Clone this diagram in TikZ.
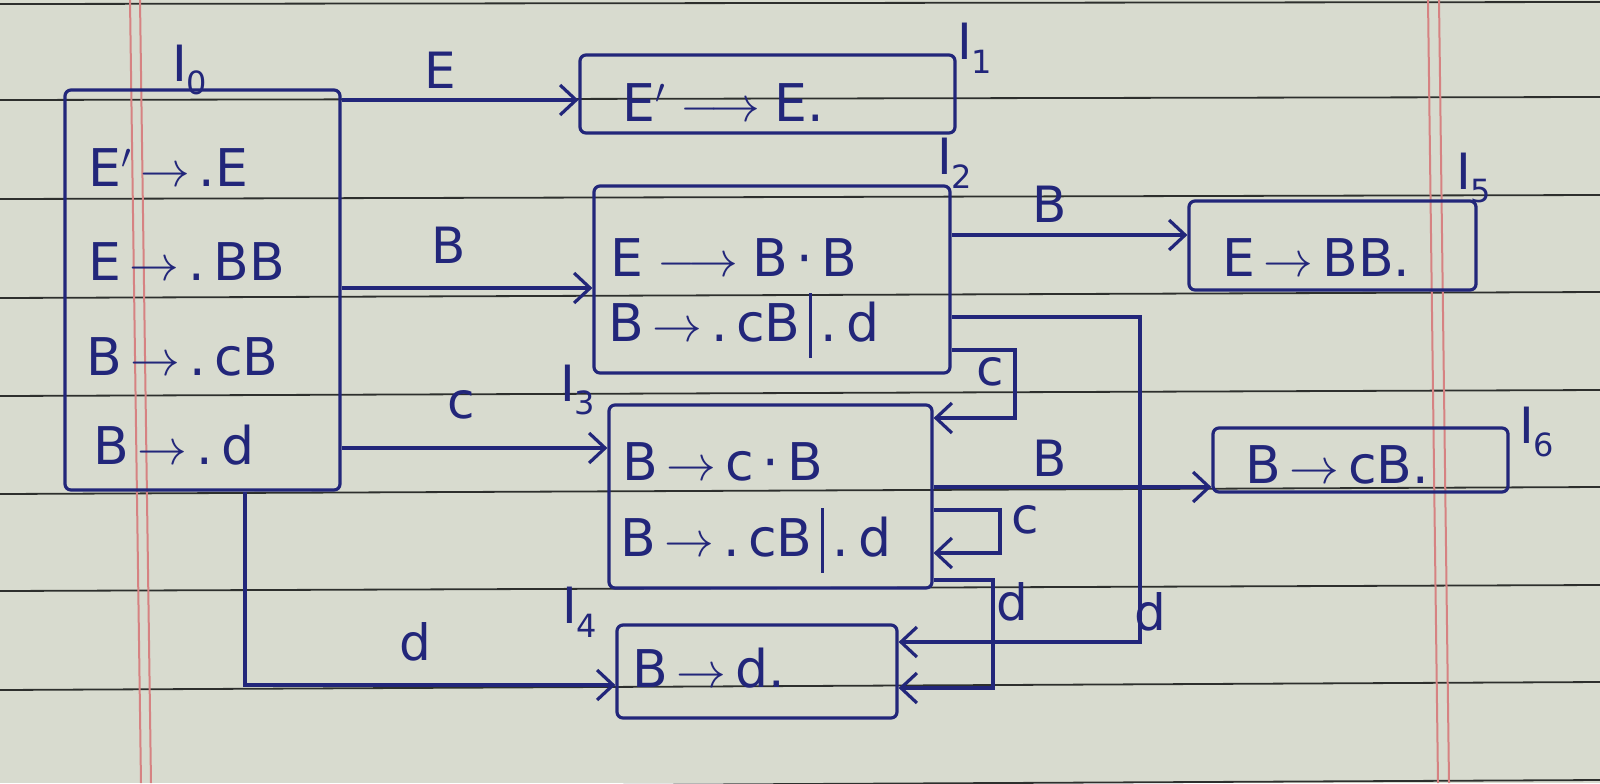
\documentclass[tikz,border=0pt]{standalone}
\usepackage{fontspec}
\setmainfont{DejaVu Sans}
\usetikzlibrary{arrows.meta,fit,calc}
\definecolor{paper}{RGB}{216,219,207}
\definecolor{ink}{RGB}{34,38,122}
\definecolor{rulecol}{RGB}{45,47,45}
\definecolor{margincol}{RGB}{214,130,130}
\newcommand\St[1]{I\kern-0.5pt\raisebox{-0.5ex}{\fontsize{16}{16}\selectfont #1}}
\newcommand\ra{\,$\rightarrow$\,}
\newcommand\lra{\;$\longrightarrow$\;}
\newcommand\vbarsep{\,\rule[-0.3em]{1.5pt}{1.25em}\,}
\begin{document}
\begin{tikzpicture}[x=0.5pt,y=-0.5pt,
  box/.style={draw=ink,line width=1.6pt,rounded corners=3pt,inner sep=0pt},
  item/.style={text=ink,font=\fontsize{26}{30}\selectfont,inner sep=0pt,anchor=west},
  lbl/.style={text=ink,font=\fontsize{25}{28}\selectfont,inner sep=0pt},
  conn/.style={draw=ink,line width=1.6pt,-{Straight Barb[length=8pt,width=15pt,line width=1.6pt]}},
  ruling/.style={draw=rulecol,line width=0.9pt},
  marginline/.style={draw=margincol,line width=1pt}]
\useasboundingbox (0,0) rectangle (1600,783);
\fill[paper] (0,0) rectangle (1600,783);
\begin{scope}
\clip (0,0) rectangle (1600,783);
\foreach \ya/\yb in {4/2,100/97,199/195,298/292,396/390,494/487,591/585,690/682,788/780}
  \draw[ruling] (0,\ya) -- (1600,\yb);
\draw[marginline] (130,0) -- (141,783);
\draw[marginline] (140,0) -- (151,783);
\draw[marginline] (1428,0) -- (1438,783);
\draw[marginline] (1439,0) -- (1449,783);
\end{scope}

% state boxes
\node[box,fit={(65,90) (340,490)}] (I0) {};
\node[box,fit={(580,55) (955,133)}] (I1) {};
\node[box,fit={(594,186) (950,373)}] (I2) {};
\node[box,fit={(609,405) (932,588)}] (I3) {};
\node[box,fit={(617,625) (897,718)}] (I4) {};
\node[box,fit={(1189,201) (1476,290)}] (I5) {};
\node[box,fit={(1213,428) (1508,492)}] (I6) {};

% state names
\node[lbl] (n0) at (190,70) {\St{0}};
\node[lbl] (n1) at (975,48) {\St{1}};
\node[lbl] (n2) at (955,163) {\St{2}};
\node[lbl] (n3) at (578,390) {\St{3}};
\node[lbl] (n4) at (580,612) {\St{4}};
\node[lbl] (n5) at (1474,178) {\St{5}};
\node[lbl] (n6) at (1537,432) {\St{6}};

% items
\node[item] (i01) at (88,168) {E$'$\ra.E};
\node[item] (i02) at (88,262) {E\ra.\,BB};
\node[item] (i03) at (86,357) {B\ra.\,cB};
\node[item] (i04) at (93,445) {B\ra.\,d};
\node[item] (i11) at (622,103) {E$'$\lra E.};
\node[item] (i21) at (610,258) {E\lra B\,·\,B};
\node[item] (i22) at (608,325) {B\ra.\,cB\vbarsep.\,d};
\node[item] (i31) at (622,462) {B\ra c\,·\,B};
\node[item] (i32) at (620,540) {B\ra.\,cB\vbarsep.\,d};
\node[item] (i41) at (632,668) {B\ra d.};
\node[item] (i51) at (1222,258) {E\ra BB.};
\node[item] (i61) at (1245,465) {B\ra cB.};

% connectors
\coordinate (d04) at (245,685);
\coordinate (c23) at (1015,418);
\coordinate (d24) at (1140,642);
\coordinate (c33) at (1000,553);
\coordinate (d34) at (993,688);
\draw[conn] (I0.east |- 0,100) -- (I1.west |- 0,100);
\draw[conn] (I0.east |- 0,288) -- (I2.west |- 0,288);
\draw[conn] (I0.east |- 0,448) -- (I3.west |- 0,448);
\draw[conn] (I0.south -| d04) |- (I4.west |- d04);
\draw[conn] (I2.east |- 0,235) -- (I5.west |- 0,235);
\draw[conn] (I2.east |- 0,350) -| (c23) -- (I3.east |- c23);
\draw[conn] (I2.east |- 0,317) -| (d24) -- (I4.east |- d24);
\draw[conn] (I3.east |- 0,487) -- (I6.west |- 0,487);
\draw[conn] (I3.east |- 0,510) -| (c33) -- (I3.east |- c33);
\draw[conn] (I3.east |- 0,580) -| (d34) -- (I4.east |- d34);

% transition symbols
\node[lbl] (tE) at (440,70) {E};
\node[lbl] (tB02) at (449,245) {B};
\node[lbl] (tc03) at (461,405) {c};
\node[lbl] (td04) at (415,642) {d};
\node[lbl] (tB25) at (1050,204) {B};
\node[lbl] (tc23) at (990,372) {c};
\node[lbl] (tB36) at (1050,458) {B};
\node[lbl] (tc33) at (1025,520) {c};
\node[lbl] (td34) at (1012,602) {d};
\node[lbl] (td24) at (1150,612) {d};
\end{tikzpicture}
\end{document}
